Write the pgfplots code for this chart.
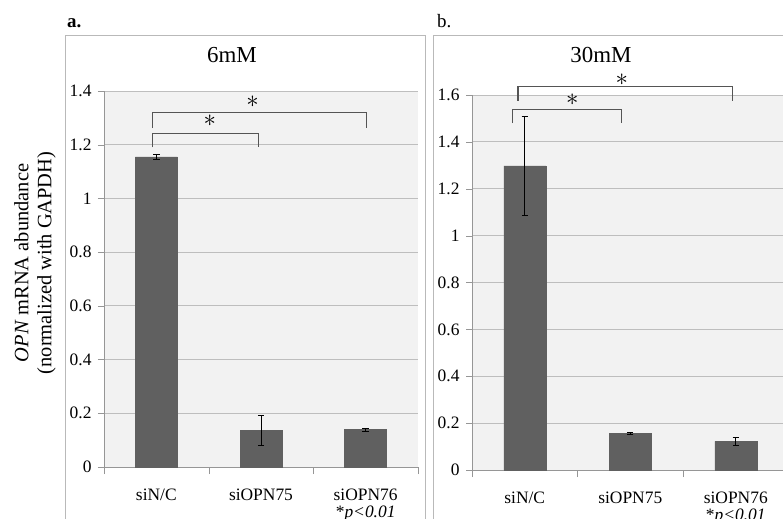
\documentclass[border=0pt]{standalone}
\usepackage{fontspec}
\setmainfont{Liberation Serif}
\usepackage{pgfplots}
\pgfplotsset{compat=1.18}
\definecolor{bgc}{RGB}{242,242,242}
\definecolor{gridc}{RGB}{190,190,190}
\definecolor{axc}{RGB}{150,150,150}
\definecolor{barc}{RGB}{96,96,96}
\definecolor{boxc}{RGB}{185,185,185}
\definecolor{brc}{RGB}{85,85,85}
\tikzset{brk/.style={brc, line width=1.1bp}}
\pgfplotsset{
  panel/.style={
    scale only axis,
    xmin=-0.5, xmax=2.5, ymin=0,
    axis x line*=bottom, axis y line*=left,
    axis line style={axc},
    axis background/.style={fill=bgc},
    ymajorgrids, grid style={gridc, line width=0.8bp},
    xtick={0,1,2},
    xticklabels={siN/C, siOPN75, {siOPN76\\*\textit{p<0.01}}},
    minor xtick={-0.5,0.5,1.5,2.5},
    major x tick style={draw=none},
    minor tick length=7bp,
    major tick length=6bp,
    tick align=outside,
    tick style={axc},
    xticklabel style={align=center, font=\fontsize{17.5}{17}\selectfont, yshift=-12bp},
    yticklabel style={font=\fontsize{17.5}{18}\selectfont, xshift=-3bp},
    /pgf/number format/assume math mode=true,
    yticklabel={\pgfmathprintnumber[fixed]{\tick}},
    ybar, bar width=42bp, bar shift=0pt,
    clip=false,
  },
  ebar/.style={error bars/.cd, y dir=both, y explicit,
    error bar style={black, line width=0.8bp},
    error mark options={black, rotate=90, mark size=3.2bp, line width=0.8bp}},
}
\begin{document}
\begin{tikzpicture}[x=1bp,y=1bp]
% outer boxes
\draw[boxc, line width=1bp] (65.5,-530) -- (65.5,-35.5) -- (425.5,-35.5) -- (425.5,-530);
\draw[boxc, line width=1bp] (433.5,-530) -- (433.5,-35.5) -- (800,-35.5);
\node[anchor=base west, inner sep=0, font=\fontsize{19}{19}\selectfont\bfseries] at (67,-27) {a.};
\node[anchor=base west, inner sep=0, font=\fontsize{19}{19}\selectfont] at (437,-27) {b.};
\node[anchor=base, inner sep=0, font=\fontsize{23}{23}\selectfont] at (232,-62) {6mM};
\node[anchor=base, inner sep=0, font=\fontsize{23}{23}\selectfont] at (601,-62) {30mM};
\node[rotate=90, align=center, inner sep=0, font=\fontsize{20.5}{23}\selectfont] at (35,-263) {\textit{OPN} mRNA abundance\\(normalized with GAPDH)};

% panel a
\begin{axis}[panel, at={(104bp,-467bp)}, anchor=south west, width=314bp, height=376bp,
  ymax=1.4, ytick={0,0.2,0.4,0.6,0.8,1,1.2,1.4}]
\addplot[fill=barc, draw=barc, ebar]
  coordinates {(0,1.155) +- (0,0.010) (1,0.136) +- (0,0.056) (2,0.139) +- (0,0.005)};
\draw[brk] (axis cs:-0.04,1.19) -- (axis cs:-0.04,1.243) -- (axis cs:0.98,1.243) -- (axis cs:0.98,1.19);
\draw[brk] (axis cs:-0.04,1.262) -- (axis cs:-0.04,1.319) -- (axis cs:2.01,1.319) -- (axis cs:2.01,1.262);
\node[inner sep=0, font=\fontsize{27}{27}\selectfont] at (axis cs:0.51,1.288) {$\ast$};
\node[inner sep=0, font=\fontsize{27}{27}\selectfont] at (axis cs:0.92,1.359) {$\ast$};
\end{axis}

% panel b
\begin{axis}[panel, at={(472bp,-470bp)}, anchor=south west, width=316.5bp, height=375bp,
  ymax=1.6, ytick={0,0.2,0.4,0.6,0.8,1,1.2,1.4,1.6}]
\addplot[fill=barc, draw=barc, ebar]
  coordinates {(0,1.298) +- (0,0.21) (1,0.156) +- (0,0.005) (2,0.122) +- (0,0.017)};
\draw[brk] (axis cs:-0.12,1.48) -- (axis cs:-0.12,1.540) -- (axis cs:0.92,1.540) -- (axis cs:0.92,1.48);
\draw[brk] (axis cs:-0.064,1.576) -- (axis cs:-0.064,1.635) -- (axis cs:1.97,1.635) -- (axis cs:1.97,1.576);
\node[inner sep=0, font=\fontsize{27}{27}\selectfont] at (axis cs:0.45,1.578) {$\ast$};
\node[inner sep=0, font=\fontsize{27}{27}\selectfont] at (axis cs:0.92,1.664) {$\ast$};
\end{axis}

\pgfresetboundingbox
\path[use as bounding box] (0,0) rectangle (783bp,-519bp);
\end{tikzpicture}
\end{document}
